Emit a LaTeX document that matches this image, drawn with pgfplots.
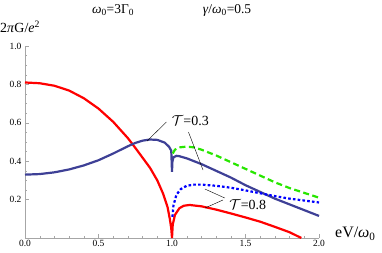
\documentclass[border=0pt]{standalone}
\usepackage{pgfplots}
\pgfplotsset{compat=1.18}
\usepackage{fontspec}
\setmainfont{Liberation Serif}
\definecolor{mred}{RGB}{255,0,0}
\definecolor{mnavy}{RGB}{62,64,150}
\definecolor{mgreen}{RGB}{40,230,0}
\definecolor{mblue}{RGB}{0,0,255}
\begin{document}
\begin{tikzpicture}[x=1bp,y=1bp]
\useasboundingbox (-25,-15) rectangle (357,238);
\begin{axis}[
  at={(0,0)}, anchor=south west,
  scale only axis, width=294bp, height=192bp,
  xmin=0, xmax=2, ymin=0, ymax=1,
  axis x line=bottom, axis y line=left,
  axis line style={-, draw=gray!70},
  tick align=inside,
  major tick length=4bp, minor tick length=2.2bp,
  every tick/.style={gray!70, line width=0.4bp},
  xtick={0,0.5,1,1.5,2}, ytick={0.2,0.4,0.6,0.8,1.0},
  minor x tick num=4, minor y tick num=3,
  extra y ticks={0}, extra y tick labels={},
  ticklabel style={font=\fontsize{9.5}{10}\selectfont, text=black},
  xticklabel style={yshift=1bp},
  /pgf/number format/assume math mode=true,
  xticklabel style={/pgf/number format/.cd, fixed, fixed zerofill, precision=1},
  yticklabel style={/pgf/number format/.cd, fixed, fixed zerofill, precision=1},
  clip=false,
]
% red
\addplot[mred, line width=2.2bp] coordinates {
(0,0.81) (0.1,0.806) (0.2,0.793) (0.3,0.768) (0.4,0.728) (0.5,0.674) (0.6,0.605)
(0.7,0.52) (0.75,0.47) (0.8,0.418) (0.85,0.366) (0.9,0.30) (0.94,0.23)
(0.97,0.16) (0.985,0.10) (0.995,0.05) (1.0,0.0) (1.005,0.07) (1.02,0.12)
(1.05,0.155) (1.08,0.168) (1.12,0.172) (1.2,0.165) (1.3,0.148) (1.4,0.128)
(1.5,0.107) (1.6,0.085) (1.7,0.058) (1.8,0.03) (1.88,0.0)};
% navy T=0.3
\addplot[mnavy, line width=2.2bp] coordinates {
(0,0.33) (0.1,0.333) (0.2,0.342) (0.3,0.357) (0.4,0.378) (0.5,0.405) (0.6,0.44)
(0.7,0.478) (0.75,0.495) (0.8,0.507) (0.85,0.513) (0.9,0.511) (0.95,0.497)
(0.98,0.475) (0.995,0.455) (1.0,0.345) (1.003,0.40) (1.01,0.42) (1.03,0.428)
(1.05,0.426) (1.1,0.415) (1.2,0.385) (1.3,0.35) (1.4,0.315) (1.5,0.275)
(1.6,0.24) (1.7,0.205) (1.8,0.175) (1.9,0.145) (2.0,0.115)};
% green dashed
\addplot[mgreen, line width=2.2bp, dash pattern=on 6bp off 3.5bp] coordinates {
(1.005,0.44) (1.02,0.46) (1.05,0.472) (1.1,0.476) (1.15,0.472) (1.2,0.46)
(1.3,0.43) (1.4,0.395) (1.5,0.36) (1.6,0.325) (1.7,0.29) (1.8,0.26)
(1.9,0.235) (2.0,0.21)};
% blue dotted
\addplot[mblue, line width=2.2bp, dash pattern=on 2.6bp off 2.2bp] coordinates {
(1.003,0.11) (1.01,0.17) (1.03,0.225) (1.06,0.255) (1.1,0.272) (1.15,0.278)
(1.2,0.278) (1.3,0.272) (1.4,0.262) (1.5,0.248) (1.6,0.233) (1.7,0.218)
(1.8,0.205) (1.9,0.195) (2.0,0.185)};
% annotations
\draw[black, line width=0.4bp] (axis cs:0.962,0.604) -- (axis cs:0.83,0.505);
\draw[black, line width=0.4bp] (axis cs:1.112,0.552) -- (axis cs:1.211,0.354);
\node[font=\fontsize{14}{16}\selectfont, inner sep=0pt] at (axis cs:1.125,0.612) {$\mathcal{T}$=0.3};
\draw[black, line width=0.4bp] (axis cs:1.36,0.208) -- (axis cs:1.224,0.255);
\draw[black, line width=0.4bp] (axis cs:1.347,0.198) -- (axis cs:1.224,0.156);
\node[font=\fontsize{14}{16}\selectfont, inner sep=0pt] at (axis cs:1.515,0.174) {$\mathcal{T}$=0.8};
\end{axis}
\node[font=\fontsize{13.5}{15}\selectfont, inner sep=0pt] at (88,228) {\textit{ω}\textsubscript{0}=3Γ\textsubscript{0}};
\node[font=\fontsize{13.5}{15}\selectfont, inner sep=0pt] at (202,228) {\textit{γ}/\textit{ω}\textsubscript{0}=0.5};
\node[font=\fontsize{14}{16}\selectfont, inner sep=0pt, anchor=west] at (-25,211) {2\textit{π}G/\textit{e}\textsuperscript{2}};
\node[font=\fontsize{16}{18}\selectfont, inner sep=0pt, anchor=west] at (310,4) {eV/\textit{ω}\textsubscript{0}};
\end{tikzpicture}
\end{document}
